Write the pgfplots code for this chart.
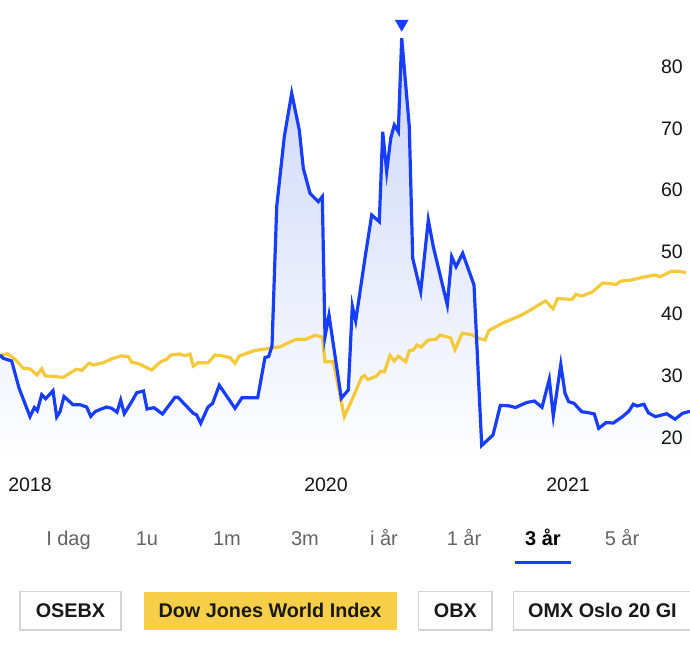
\documentclass[border=0pt]{standalone}
\usepackage{pgfplots}
\pgfplotsset{compat=1.18}
\usepackage{pgfplotstable}
\usepackage{fontspec}
\setmainfont{Liberation Sans}
\definecolor{lineblue}{RGB}{23,62,255}
\definecolor{lineyellow}{RGB}{244,201,60}
\definecolor{btnyellow}{RGB}{247,206,72}
\definecolor{fillblue}{RGB}{203,213,247}
\definecolor{boxgray}{RGB}{212,212,212}
\definecolor{labgray}{RGB}{100,100,100}

\pgfplotstableread{
x y
0 33.39
3.3 32.86
11.7 32.42
19 28.06
30 23.43
34.3 24.91
37.3 24.39
41.7 26.98
45.7 26.33
53 27.63
56.7 23.38
60 24.23
64 26.69
73 25.36
80 25.36
86.7 24.99
90.7 23.49
95.5 24.27
100 24.59
106.7 24.99
111.7 24.78
117 24.15
120.7 26.12
124.3 23.91
131.7 25.85
136.7 27.30
143.5 27.58
147 24.67
154 24.88
162.5 23.86
175 26.56
178 26.56
193.3 23.97
196.7 23.70
200.7 22.36
208 24.99
212.5 25.56
219.3 28.50
235 24.78
242 26.49
257.7 26.49
265 32.99
268.7 33.15
272 34.85
276.7 57.35
284.3 68.66
291.7 75.67
299.3 69.74
303.3 63.55
310 59.52
318.3 58.16
322.3 58.97
325 36.35
329 39.85
341.3 26.40
348.3 27.74
352.3 41.31
355.7 38.89
365 49.06
371.7 56.01
379.3 54.93
382.7 69.47
386.7 63.00
390.7 68.40
394.3 70.55
398.3 69.47
401.7 84.56
409.3 70.27
412.7 49.01
420.7 43.62
428.3 55.20
433.3 50.89
447.3 41.47
451.7 49.27
456 47.66
462.7 49.82
474 44.70
481.7 18.77
493 20.47
500.3 25.23
508.3 25.20
515.5 24.91
526.7 25.72
534.3 25.96
542 24.94
549.3 29.48
553.3 23.54
560.8 31.86
565 27.21
568.7 25.85
574 25.59
581.7 24.23
588.3 24.07
594.3 23.86
598.7 21.55
606 22.46
613.3 22.41
622.5 23.43
629 24.35
633.3 25.44
637.2 25.15
644 25.44
648.3 24.06
655.5 23.43
666.7 23.91
675 23.02
682.5 23.97
690 24.30
}\bluedata

\pgfplotstableread{
x y
0 33.31
7.3 33.60
15 32.70
23.3 31.24
30.3 31.13
37 30.16
41.7 31.18
45 30.03
63.3 29.79
76 31.08
82 30.92
88.8 32.05
93.7 31.78
103.3 32.15
113.3 32.86
120.7 33.23
128.3 33.15
131.7 32.23
138 32.02
151.7 30.97
160.7 32.31
166.7 32.70
170.7 33.39
180 33.55
185 33.28
190 33.55
193.3 31.62
198.3 32.15
208.3 32.15
215 33.39
221.7 33.28
230 32.96
235 32.05
239.3 33.23
246.7 33.67
255 34.12
270 34.48
280 34.73
296 35.93
306 35.93
315 36.59
322.5 36.25
325 32.31
333.3 32.31
344.3 23.43
353.3 26.66
361.5 29.76
364.5 30.05
368 29.43
376 29.95
381 30.78
384.5 30.69
390 33.31
394.2 32.42
398.3 33.18
405.7 32.31
409.3 34.09
413.3 34.20
417 35.01
421 34.68
428.3 35.82
436 35.93
440 36.62
450.5 36.17
455 34.25
462.2 36.90
471.7 36.67
478.5 36.09
485 35.82
488.7 37.32
503.3 38.61
511.7 39.16
521.7 39.85
533.3 40.94
545.5 42.15
553 40.87
557.5 42.49
572 42.39
575.8 43.17
582 42.92
592.5 43.60
602.8 45.02
616 44.81
621 45.32
631.7 45.51
641.7 45.91
655 46.32
660 46.04
671.3 46.91
679 46.91
686 46.69
}\yellowdata

\begin{document}
\begin{tikzpicture}[x=1pt,y=1pt]
\path[use as bounding box] (0,0) rectangle (690,655);
\begin{axis}[
  at={(0pt,195pt)}, anchor=south west,
  scale only axis, width=690pt, height=440pt,
  xmin=0, xmax=690, ymin=16.43, ymax=87.51,
  clip=false, axis on top,
  axis line style={draw=none},
  major tick length=0pt,
  xtick={30,326,568}, xticklabels={2018,2020,2021},
  ytick={20,30,40,50,60,70,80},
  yticklabels={20,30,40,50,60,70,80},
  yticklabel pos=right,
  /pgf/number format/assume math mode=true,
  ticklabel style={font=\fontsize{19.5}{23}\selectfont, text=black!92, inner sep=0pt},
  xticklabel style={anchor=base, yshift=-31.7pt},
  yticklabel style={anchor=east, xshift=-7pt},
]
\addplot[draw=none, top color=fillblue, bottom color=white, forget plot]
  table {\bluedata} |- (axis cs:0,16.43) -- cycle;
\addplot[lineyellow, line width=3.2pt, no marks] table {\yellowdata};
\addplot[lineblue, line width=3.2pt, no marks] table {\bluedata};
\addplot[only marks, mark=triangle*, mark size=7.5pt, color=lineblue,
  mark options={rotate=180, fill=lineblue, draw=none}] coordinates {(401.7,86.9)};
\end{axis}

\begin{scope}[font=\fontsize{20}{24}\selectfont]
\node[anchor=base, text=labgray] at (68.5,109) {I dag};
\node[anchor=base, text=labgray] at (147,109) {1u};
\node[anchor=base, text=labgray] at (227,109) {1m};
\node[anchor=base, text=labgray] at (305,109) {3m};
\node[anchor=base, text=labgray] at (384,109) {i år};
\node[anchor=base, text=labgray] at (464,109) {1 år};
\node[anchor=base, text=black, font=\fontsize{20}{24}\selectfont\bfseries] at (543,109) {3 år};
\node[anchor=base, text=labgray] at (622,109) {5 år};
\draw[lineblue, line width=3pt] (515,92.5) -- (571,92.5);
\end{scope}

\draw[boxgray, line width=1.4pt] (20,25) rectangle (121,63.3);
\fill[btnyellow] (143.6,25.3) rectangle (396.5,62.9);
\draw[boxgray, line width=1.4pt] (418.5,25) rectangle (492,63.3);
\draw[boxgray, line width=1.4pt] (513.5,25) rectangle (700,63.3);
\begin{scope}[font=\fontsize{19.8}{24}\selectfont\bfseries]
\node[anchor=base, text=black!90] at (70.5,37.7) {OSEBX};
\node[anchor=base, text=black!90] at (270,37.7) {Dow Jones World Index};
\node[anchor=base, text=black!90] at (455.3,37.7) {OBX};
\node[anchor=base west, text=black!90, inner sep=0pt] at (528,37.7) {OMX Oslo 20 GI};
\end{scope}
\end{tikzpicture}
\end{document}
